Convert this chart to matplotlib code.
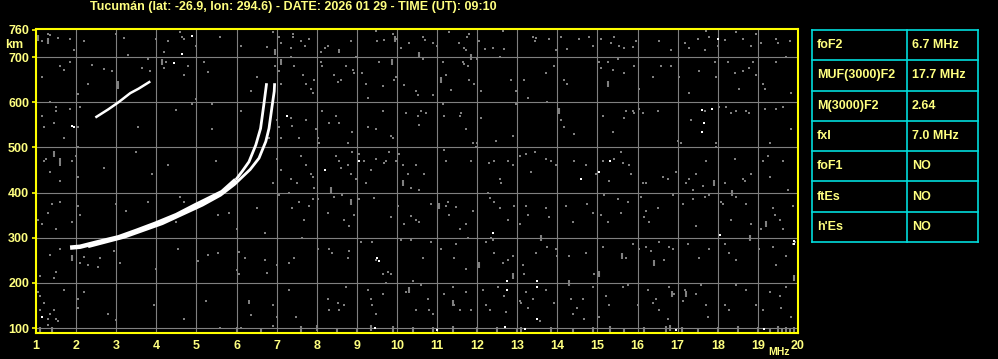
import matplotlib
matplotlib.use("Agg")
import matplotlib.pyplot as plt

# ---------------- data ----------------
title = "Tucumán (lat: -26.9, lon: 294.6) - DATE: 2026 01 29 - TIME (UT): 09:10"
freq_ticks = list(range(1, 21))
height_ticks = [100, 200, 300, 400, 500, 600, 700, 760]

# ordinary trace (first hop)
o_freq = [1.85, 2.1, 2.5, 3.06, 3.5, 3.98, 4.5, 4.98, 5.3, 5.64, 5.98, 6.15, 6.31, 6.48, 6.6, 6.68, 6.75]
o_height = [278, 280, 289, 301, 315, 331, 350, 372, 386, 401, 428, 448, 468, 505, 542, 594, 642]
# extraordinary trace
x_freq = [2.3, 3.2, 4.15, 5.15, 5.6, 5.95, 6.15, 6.34, 6.56, 6.73, 6.81, 6.88, 6.94, 6.95]
x_height = [280, 301, 331, 372, 394, 418, 435, 451, 476, 513, 542, 587, 624, 642]
# second hop trace
hop2_freq = [2.48, 2.8, 3.06, 3.35, 3.56, 3.85]
hop2_height = [566, 584, 600, 620, 630, 646]
hop2_dot_freq = [4.43, 4.64, 4.89, 1.9, 1.95]
hop2_dot_height = [687, 707, 746, 548, 545]

# background noise (grey dots), f [MHz], h' [km]
noise_left = [
    (1.3,750),(1.35,748),(1.15,735),(1.55,742),(1.85,740),(2.2,735),(3.0,750),(4.0,740),(4.6,755),(4.65,745),
    (4.7,740),(4.3,735),(5.6,745),(6.9,755),(7.05,745),(7.1,730),(1.95,715),(3.3,705),(4.2,712),(5.0,725),
    (6.75,722),(1.0,730),(3.2,742),(6.1,725),
    (1.6,680),(1.7,672),(1.85,690),(2.4,682),(2.7,673),(3.8,695),(4.15,688),(4.2,675),(4.25,690),(5.3,666),
    (5.2,690),(4.8,680),(6.95,680),(7.05,668),(1.15,655),(2.3,640),(3.85,668),(3.65,675),(3.05,645),(2.05,618),
    (2.9,670),(6.5,655),(7.1,640),(5.0,607),(6.35,625),(4.7,660),
    (1.15,570),(1.35,600),(1.5,590),(1.5,580),(1.85,585),(2.1,590),(4.5,582),(4.9,595),(5.4,596),
    (6.1,580),(7.0,560),(7.05,545),(1.7,520),(1.45,555),(2.05,545),(3.55,545),(5.4,540),(1.0,520),(6.8,520),
    (7.1,520),(1.2,545),
    (1.2,470),(1.25,475),(1.6,460),(1.9,470),(2.0,480),(2.05,500),(3.5,490),(2.7,455),(3.9,440),(1.0,500),
    (1.6,425),(2.05,435),(5.5,470),(7.0,475),(7.1,450),(6.9,420),(5.8,415),(4.3,460),(1.35,445),
    (1.4,375),(1.6,380),(1.3,355),(1.05,340),(2.05,370),(2.1,350),(3.25,360),(3.0,375),(3.8,380),(4.6,390),
    (4.7,378),(5.8,355),(5.55,350),(6.5,365),(1.15,330),(1.5,320),(1.9,335),(6.0,320),(6.7,310),(7.05,395),
    (4.5,335),
    (1.0,280),(1.35,262),(1.6,275),(2.2,258),(2.6,256),(2.95,270),(3.1,245),(4.55,275),(5.3,262),(5.55,266),
    (6.05,268),(6.2,255),(6.7,250),(7.0,240),(1.5,225),(2.1,245),(2.3,240),(2.55,235),(4.0,230),(5.05,248),
    (6.0,228),(6.75,222),(6.05,220),(1.1,215),(1.45,210),
    (1.0,190),(1.05,180),(1.1,170),(1.2,155),(1.7,185),(1.1,140),(1.35,130),(1.45,140),(1.5,120),(1.3,120),
    (1.3,106),(1.55,115),(2.05,165),(2.05,145),(2.2,180),(3.95,150),(3.0,118),(4.7,120),(5.25,160),(6.3,160),
    (6.3,155),(6.35,128),(6.1,100),(6.9,150),(6.9,105),(7.0,125),(5.6,100),(2.8,130),
]
noise_mid = [
    (7.4,745),(7.6,735),(7.7,725),(7.8,740),(7.4,750),(7.35,720),(8.2,720),(8.27,725),(8.56,715),(8.85,735),
    (8.56,710),(8.1,710),(9.47,758),(9.68,737),(9.98,740),(9.9,750),(9.5,735),(10.1,720),(10.3,730),(10.65,745),
    (10.7,737),(10.9,730),(11.0,725),(11.3,755),(11.55,730),(11.75,745),(11.8,750),(11.68,720),(11.72,715),
    (12.05,735),(12.2,718),(12.4,720),(12.68,718),(12.65,757),(13.47,742),(13.43,735),(13.4,745),
    (7.35,700),(7.43,680),(7.65,660),(7.72,640),(7.93,650),(7.9,620),(7.85,630),(8.1,690),(8.14,680),(8.43,660),
    (8.52,645),(8.6,650),(8.72,680),(8.9,672),(8.93,665),(8.97,700),(9.14,665),(9.23,640),(9.27,610),(9.56,690),
    (9.65,635),(9.93,650),(9.98,655),(10.18,638),(10.48,625),(10.52,615),(10.64,695),(10.89,615),(11.14,690),
    (11.23,660),(11.35,628),(11.64,690),(11.68,685),(11.77,680),(11.8,650),(11.93,640),(12.1,625),(12.0,695),
    (12.56,700),(12.85,650),(12.98,625),(13.18,648),(13.27,610),
    (7.39,548),(7.35,565),(7.56,520),(7.72,560),(7.98,540),(8.02,520),(8.06,510),(8.14,580),(8.31,555),
    (8.47,570),(8.56,555),(8.77,510),(8.89,535),(9.27,545),(9.48,540),(9.64,580),(9.85,525),(9.9,520),
    (10.22,575),(10.52,570),(10.56,550),(10.6,580),(10.73,575),(11.14,595),(11.18,570),(11.56,570),(11.6,575),
    (11.73,540),(11.9,510),(12.0,510),(12.1,565),(12.48,515),(12.9,525),(12.98,595),
    (7.35,430),(7.6,480),(7.72,460),(7.85,440),(7.9,435),(7.93,410),(7.52,420),(7.3,400),(8.47,480),(8.56,470),
    (8.6,455),(8.77,460),(8.85,440),(8.89,490),(8.97,430),(9.06,485),(9.18,470),(9.23,420),(9.35,450),
    (9.47,475),(9.68,465),(9.73,470),(9.81,490),(9.98,470),(10.06,485),(10.14,460),(10.27,440),(10.35,410),
    (10.48,460),(10.56,405),(10.68,440),(11.18,495),(11.23,470),(11.85,470),(11.98,500),(12.3,465),(12.43,470),
    (12.56,430),(12.6,420),(12.77,470),(12.89,460),(13.06,480),(13.22,485),(13.35,445),(13.43,490),
    (7.39,365),(7.56,380),(7.68,340),(7.81,370),(7.9,385),(8.02,385),(8.27,355),(8.43,390),(8.64,395),
    (8.68,340),(8.81,325),(8.93,350),(9.06,385),(9.43,387),(9.85,345),(10.02,370),(10.18,330),(10.35,348),
    (10.48,340),(10.56,335),(10.85,375),(11.23,370),(11.27,380),(11.31,350),(11.48,368),(11.56,320),(11.9,360),
    (11.73,330),(12.27,398),(12.31,388),(12.43,380),(12.56,365),(12.77,340),(12.93,370),(13.06,330),(13.22,370),
    (13.27,350),
    (7.31,245),(7.43,255),(7.64,300),(8.02,275),(8.31,275),(8.39,265),(8.77,255),(8.81,270),(9.1,290),
    (9.39,290),(9.47,250),(9.64,220),(9.77,225),(9.85,220),(10.1,295),(10.35,295),(10.64,255),(10.85,290),
    (11.1,275),(11.43,255),(11.48,285),(11.73,230),(11.77,300),(12.23,290),(12.35,300),(12.39,295),(12.43,265),
    (12.64,245),(12.77,250),(12.89,260),(13.14,240),(13.18,220),(13.47,265),
    (7.31,185),(7.48,125),(8.27,165),(8.31,140),(8.52,155),(8.56,140),(8.72,190),(8.68,150),(9.27,185),
    (9.35,165),(9.39,150),(9.47,130),(9.64,175),(9.73,200),(10.22,180),(10.39,205),(10.48,140),(10.6,195),
    (10.77,165),(10.81,140),(10.89,130),(11.18,175),(11.39,190),(11.43,150),(11.56,140),(11.73,180),(11.85,140),
    (12.14,185),(12.23,150),(12.31,140),(12.52,190),(12.68,170),(12.72,135),(13.06,160),(13.1,155),(13.22,180),
    (13.27,145),(13.4,165),(13.56,115),
]
noise_right = [
    (13.79,740),(13.96,715),(14.08,745),(14.25,718),(14.54,740),(14.79,745),(14.88,725),(15.08,740),(15.33,730),
    (15.42,745),(15.54,725),(15.67,720),(15.88,722),(15.96,735),(16.54,735),(16.83,715),(17.17,730),(17.29,720),
    (17.5,740),(17.71,758),(17.79,745),(18.0,725),(18.17,738),(18.46,755),(18.63,740),(18.83,725),(18.96,750),
    (19.08,730),(19.46,740),(19.5,732),(19.79,735),
    (13.71,665),(13.92,680),(14.17,650),(14.25,640),(15.04,690),(15.08,675),(15.25,690),(15.38,672),(15.5,695),
    (15.67,665),(15.92,680),(16.04,630),(16.38,655),(16.58,680),(16.83,680),(17.04,655),(17.29,620),(17.54,670),
    (17.67,715),(17.92,690),(17.96,655),(18.25,690),(18.42,665),(18.54,630),(18.63,670),(18.79,675),(18.88,690),
    (18.96,660),(19.13,640),(19.17,630),(19.46,690),(19.71,700),(19.83,620),
    (13.75,600),(14.04,580),(14.08,560),(14.17,545),(14.42,530),(15.13,570),(15.38,535),(15.67,565),(15.71,580),
    (15.88,580),(15.92,575),(16.04,585),(16.13,575),(16.5,580),(17.0,515),(17.08,510),(17.33,560),(17.67,580),
    (17.96,510),(18.04,590),(18.21,590),(18.33,575),(18.46,580),(18.71,580),(18.79,575),(19.17,585),(19.29,510),
    (19.46,585),(19.63,590),(19.83,540),
    (13.71,475),(13.83,470),(13.96,460),(14.42,470),(14.71,460),(14.96,440),(15.13,470),(15.29,425),(15.42,475),
    (15.58,490),(15.63,465),(15.79,460),(15.83,440),(16.13,420),(16.21,420),(16.63,435),(16.75,430),(16.96,445),
    (17.21,420),(17.29,430),(17.38,405),(17.46,440),(17.63,415),(17.71,470),(17.96,500),(18.17,420),(18.42,475),
    (18.63,430),(18.67,425),(18.83,440),(19.13,470),(19.25,480),(19.29,435),(19.63,470),(19.75,405),
    (13.71,365),(13.79,345),(14.21,370),(14.38,335),(14.75,375),(14.88,355),(15.08,350),(15.17,395),(15.25,335),
    (15.5,385),(15.58,355),(15.75,380),(16.08,390),(16.17,345),(16.21,360),(16.29,335),(16.5,365),(16.88,395),
    (17.13,375),(17.38,385),(17.46,325),(17.67,390),(17.79,395),(18.08,380),(18.13,375),(18.33,340),(18.46,390),
    (18.71,375),(18.83,330),(19.08,320),(19.38,365),(19.42,350),(19.54,340),(19.63,320),(19.88,370),
    (13.75,280),(13.96,275),(14.0,260),(14.29,260),(14.71,265),(14.92,220),(15.13,280),(15.71,255),(15.88,285),
    (16.04,275),(16.21,280),(16.33,270),(16.54,290),(16.67,250),(16.79,280),(16.88,275),(17.25,285),(17.54,255),
    (17.79,275),(18.17,285),(18.29,265),(18.46,250),(19.04,275),(19.38,280),(19.46,240),(19.71,260),(19.88,285),
    (19.92,290),
    (13.71,185),(13.92,155),(14.33,165),(14.38,130),(14.5,145),(14.63,165),(14.67,120),(14.88,190),(15.04,125),
    (15.21,170),(15.29,150),(15.63,190),(15.75,195),(16.0,150),(16.25,185),(16.38,155),(16.46,165),(16.54,140),
    (16.75,120),(16.79,190),(16.92,175),(17.13,160),(17.17,185),(17.46,175),(17.58,195),(17.71,150),(17.75,125),
    (18.17,150),(18.29,140),(18.46,195),(18.71,185),(18.96,150),(19.13,140),(19.29,180),(19.54,170),(19.58,145),
    (19.71,190),(19.83,125),
]
# short vertical streaks
noise_streaks = [
    (1.05,742),(1.3,735),(1.45,485),(1.6,470),(1.9,255),(3.05,635),(4.15,690),(6.95,710),(7.1,690),
    (9.88,690),(9.95,740),(10.55,705),(11.1,650),(11.85,700),(8.35,405),(8.85,380),(10.15,420),(11.05,370),
    (12.05,240),(12.9,215),(13.6,300),(14.05,580),(15.25,640),(15.6,260),(16.4,245),(16.85,175),(17.2,175),
    (17.9,420),(18.35,400),(18.8,300),(19.2,330),(19.9,210),(15.05,220),(14.3,200),(11.4,155),(10.3,185),
]
# short streaks along the bottom of the record
noise_floor = [
    (1.1,95),(1.4,96),(6.0,95),(6.6,93),(7.6,97),(8.0,100),(8.5,94),(9.0,92),(9.35,100),(9.9,98),(10.4,95),
    (10.9,96),(11.4,97),(12.0,95),(12.5,95),(13.0,93),(13.1,96),(13.85,95),(14.4,93),(14.9,96),(15.3,97),
    (15.65,94),(16.15,96),(16.7,97),(16.8,100),(17.1,95),(17.5,93),(18.0,96),(18.5,97),(19.0,95),(19.3,94),
    (19.5,97),(19.6,94),(19.7,96),(19.8,93),(19.9,95),
]
# isolated bright echoes
white_dots = [
    (1.15,125),(7.25,570),(9.05,470),(8.2,450),(9.5,255),(9.55,248),(12.4,310),(12.75,205),(12.75,185),
    (13.5,205),(13.5,190),(13.5,120),(12.7,103),(9.45,100),(11.0,96),(13.2,98),(18.0,740),(17.85,586),
    (17.6,582),(17.65,553),(17.6,535),(15.3,470),(14.6,430),(15.05,445),(18.05,305),(19.9,292),(19.9,285),
    (16.95,95),(19.15,97),
]

table_labels = ["foF2", "MUF(3000)F2", "M(3000)F2", "fxI", "foF1", "ftEs", "h'Es"]
table_values = ["6.7 MHz", "17.7 MHz", "2.64", "7.0 MHz", "NO", "NO", "NO"]

# ---------------- style ----------------
W, H = 998, 359
TXT = "#ffff80"
FRAME = "#ffff00"
GRID = "#808080"
CYAN = "#00dcdc"
FONT = "Liberation Sans"

fig = plt.figure(figsize=(W / 100, H / 100), dpi=100, facecolor="black")

ax = fig.add_axes([36 / W, (H - 333) / H, 762 / W, 304 / H], facecolor="black")
ax.set_xlim(1, 20)
ax.set_ylim(89, 762)
ax.set_xticks(freq_ticks)
ax.set_yticks(height_ticks)
ax.set_xticklabels([str(v) for v in freq_ticks], color=TXT, fontsize=9,
                   fontweight="bold", family=FONT)
ax.set_yticklabels([str(v) for v in height_ticks], color=TXT, fontsize=9,
                   fontweight="bold", family=FONT)
ax.tick_params(axis="x", length=0, pad=5)
ax.tick_params(axis="y", length=3, width=1.2, color=FRAME, pad=2)
for s in ax.spines.values():
    s.set_color(FRAME)
    s.set_linewidth(1.5)

for f in freq_ticks[1:-1]:
    ax.axvline(f, color=GRID, lw=0.8, zorder=1)
for h in height_ticks[:-1]:
    ax.axhline(h, color=GRID, lw=0.8, zorder=1)

for pts in (noise_left, noise_mid, noise_right):
    ax.plot([p[0] for p in pts], [p[1] for p in pts], ls="none", marker="s",
            ms=1.6, mew=0, color=GRID, zorder=2, antialiased=False)
ax.plot([p[0] for p in noise_streaks], [p[1] for p in noise_streaks], ls="none",
        marker="|", ms=4, mew=1.5, color=GRID, zorder=2, antialiased=False)
ax.plot([p[0] for p in noise_floor], [p[1] for p in noise_floor], ls="none",
        marker="|", ms=5, mew=1.5, color=GRID, zorder=2, antialiased=False)
ax.plot([p[0] for p in white_dots], [p[1] for p in white_dots], ls="none",
        marker="s", ms=1.7, mew=0, color="white", zorder=3, antialiased=False)

ax.plot(x_freq, x_height, color="white", lw=2.0, zorder=4, solid_capstyle="butt")
# lower (merged O/X) band is thicker, upper cusp is thinner
ax.plot(o_freq[:11], o_height[:11], color="white", lw=3.2, zorder=4,
        solid_capstyle="butt", solid_joinstyle="round")
ax.plot(o_freq[10:], o_height[10:], color="white", lw=2.0, zorder=4,
        solid_capstyle="butt")
ax.plot(hop2_freq, hop2_height, color="white", lw=1.8, zorder=4, solid_capstyle="butt")
ax.plot(hop2_dot_freq, hop2_dot_height, ls="none", marker="s", ms=2.0, mew=0,
        color="white", zorder=4)

fig.text(90 / W, 1 - 7 / H, title, color=TXT, fontsize=9, fontweight="bold",
         family=FONT, ha="left", va="center")
fig.text(14 / W, 1 - 45 / H, "km", color=TXT, fontsize=9, fontweight="bold",
         family=FONT, ha="center", va="center")
fig.text(779 / W, 1 - 352 / H, "MHz", color=TXT, fontsize=7.5, fontweight="bold",
         family=FONT, ha="center", va="center")

# parameter table
tax = fig.add_axes([812 / W, (H - 242) / H, 166 / W, 212 / H], facecolor="black")
n = len(table_labels)
tax.set_xlim(0, 1)
tax.set_ylim(0, n)
tax.axis("off")
split = 0.572
for i in range(n + 1):
    tax.plot([0, 1], [i, i], color=CYAN, lw=1.2, clip_on=False)
for xv in (0, split, 1):
    tax.plot([xv, xv], [0, n], color=CYAN, lw=1.2, clip_on=False)
for i, (lab, val) in enumerate(zip(table_labels, table_values)):
    yc = n - i - 0.5
    tax.text(0.03, yc, lab, color=TXT, fontsize=9, fontweight="bold", family=FONT,
             ha="left", va="center")
    tax.text(split + 0.03, yc, val, color=TXT, fontsize=9, fontweight="bold",
             family=FONT, ha="left", va="center")

fig.savefig("out.png", dpi=100, facecolor="black")
